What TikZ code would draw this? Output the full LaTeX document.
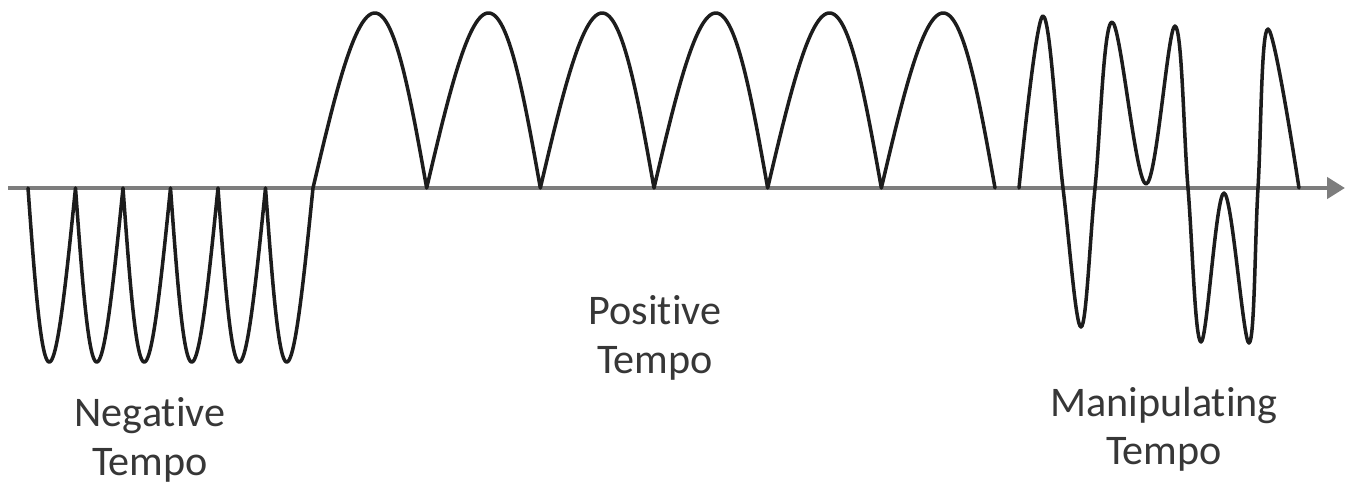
\documentclass[tikz,border=0pt]{standalone}
\usepackage{fontspec}
\setmainfont{Carlito}[Ligatures={NoCommon}]
\usetikzlibrary{arrows.meta}
\definecolor{axisgray}{RGB}{125,125,125}
\definecolor{wavegray}{RGB}{28,28,28}
\definecolor{labelgray}{RGB}{55,55,55}
\begin{document}
\begin{tikzpicture}[x=0.02cm, y=-0.02cm, >={Triangle[length=0.36cm, width=0.42cm]},
    wave/.style={line width=2pt, wavegray, line join=round, line cap=round},
    tempolabel/.style={align=center, font=\fontsize{24}{27.5}\selectfont, text=labelgray, inner sep=0pt}]
  \useasboundingbox (0,0) rectangle (1347,487);
  % time axis
  \coordinate (axstart) at (8,188);
  \coordinate (axend) at (1345,188);
  \draw[->, axisgray, line width=2.8pt] (axstart) -- (axend);
  % negative tempo, then positive tempo
  \draw[wave] plot[domain=0:1080, samples=541] ({28+\x/180*47.5-2.5*abs(sin(\x))}, {188+174*abs(sin(\x))})
    -- plot[domain=0:1080, samples=541] ({313+\x/180*113.67+5*abs(sin(\x))}, {188-175*abs(sin(\x))});
  % manipulating tempo
  \draw[wave] plot[smooth, tension=0.6] coordinates {(1019,188) (1043,16) (1063,188) (1081,327)
    (1095,188) (1112,22) (1146,184) (1175,26) (1188,188) (1201,342) (1224,193) (1249,343)
    (1258,188) (1268,29) (1299,188)};
  % labels
  \node[tempolabel] (negtempo) at (150,440) {Negative\\Tempo};
  \node[tempolabel] (postempo) at (655,338) {Positive\\Tempo};
  \node[tempolabel] (maniptempo) at (1164,429) {Manipulating\\Tempo};
\end{tikzpicture}
\end{document}
